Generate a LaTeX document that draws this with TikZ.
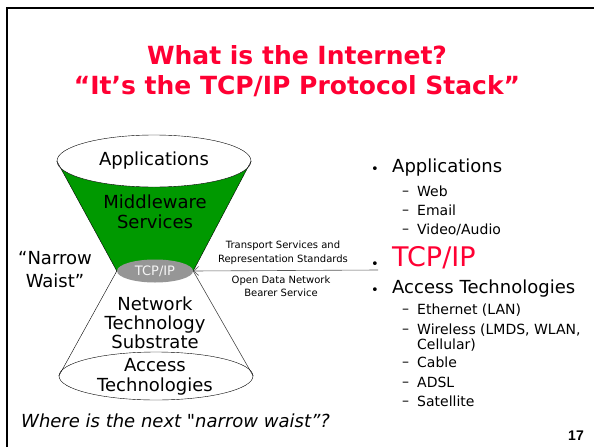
\documentclass[tikz,border=0pt]{standalone}
\usepackage{fontspec}
\setmainfont{DejaVu Sans}
\newfontfamily\pagenumfont{Liberation Sans}
\usetikzlibrary{positioning,arrows.meta,shapes.geometric,backgrounds}
\definecolor{TitleRed}{RGB}{255,0,51}
\definecolor{FunnelGreen}{RGB}{0,153,0}
\definecolor{WaistGray}{RGB}{150,150,150}
\definecolor{LineGray}{RGB}{90,90,90}

\begin{document}
\begin{tikzpicture}[
    x=1pt, y=-1pt,
    >={Straight Barb[length=5pt,width=9pt]},
    layer/.style={draw, ellipse, fill=white, inner sep=0pt},
    big/.style={font=\fontsize{18}{20}\selectfont, align=center},
    note/.style={font=\fontsize{10}{14}\selectfont, align=center},
    item/.style={anchor=west, inner sep=0pt, font=\fontsize{18}{20}\selectfont},
    subitem/.style={anchor=west, inner sep=0pt, text height=10.5pt, text depth=3pt, font=\fontsize{14}{15}\selectfont},
    dot/.style={inner sep=0pt, font=\fontsize{13}{13}\selectfont},
    dashmark/.style={inner sep=0pt, font=\fontsize{14}{14}\selectfont},
    arrow/.style={->, line width=0.6pt, draw=LineGray}
]
\useasboundingbox (0,0) rectangle (594,447);
\draw[line width=2.5pt] (7,447) -- (7,8) -- (594,8);

% title
\node[font=\fontsize{25}{30}\selectfont\bfseries, text=TitleRed, align=center] (title) at (297,71) {What is the Internet?\\“It’s the TCP/IP Protocol Stack”};

% hourglass
\node[layer, minimum width=194, minimum height=52] (apps) at (154,161) {};
\node[ellipse, fill=WaistGray, minimum width=76, minimum height=23, inner sep=0pt] (tcp) at (155,271) {};
\node[layer, minimum width=194, minimum height=48] (access) at (156,376) {};
\begin{scope}[on background layer]
\fill[FunnelGreen] (apps.west) -- (tcp.west) -- (tcp.east) -- (apps.east) -- cycle;
\end{scope}
\draw (apps.west) -- (tcp.west);
\draw (apps.east) -- (tcp.east);
\draw (tcp.west) -- (access.west);
\draw (tcp.east) -- (access.east);

\node[big] (appstext) at (apps) {Applications};
\node[big] (mid) at (155,212) {Middleware\\Services};
\node[font=\fontsize{13}{13}\selectfont, text=white!92!gray] (tcptext) at (tcp) {TCP/IP};
\node[big, font=\fontsize{18}{19}\selectfont] (net) at (155,323) {Network\\Technology\\Substrate};
\node[big] (accesstext) at (155,377) {Access\\Technologies};
\node[big, font=\fontsize{18}{23}\selectfont] (narrow) at (55,270) {“Narrow\\Waist”};

% service labels
\node[note] (transport) at (283,253) {Transport Services and\\Representation Standards};
\node[note, font=\fontsize{10}{13}\selectfont] (bearer) at (281,286) {Open Data Network\\Bearer Service};
\coordinate (linestart) at (378,270);
\draw[arrow] (linestart) -- (tcp.east);

% list on the right
\node[dot] (b1) at (375,170) {•};
\node[dot] (b2) at (375,265) {•};
\node[dot] (b3) at (375,291) {•};
\node[item] (l1) at (392,168) {Applications};
\node[item, font=\fontsize{27}{27}\selectfont, text=TitleRed] (l2) at (392,258) {TCP/IP};
\node[item] (l3) at (392,289) {Access Technologies};
\foreach \y in {193,212,231,311,331,364,384,403}
  \node[dashmark] (dash\y) at (405.5,\y) {–};
\node[subitem] (web) at (417,193) {Web};
\node[subitem] (email) at (417,212) {Email};
\node[subitem] (video) at (417,231) {Video/Audio};
\node[subitem] (ether) at (417,311) {Ethernet (LAN)};
\node[anchor=north west, inner sep=0pt, align=left, font=\fontsize{14}{15}\selectfont] (wireless) at (417,324) {Wireless (LMDS, WLAN,\\Cellular)};
\node[subitem] (cable) at (417,364) {Cable};
\node[subitem] (adsl) at (417,384) {ADSL};
\node[subitem] (sat) at (417,403) {Satellite};

\node[anchor=west, inner sep=0pt, font=\fontsize{18}{18}\selectfont\itshape] (question) at (21,421) {Where is the next \textquotedbl narrow waist”?};
\node[font=\pagenumfont\bfseries\fontsize{14}{14}\selectfont] (pagenum) at (576,436) {17};
\end{tikzpicture}
\end{document}
